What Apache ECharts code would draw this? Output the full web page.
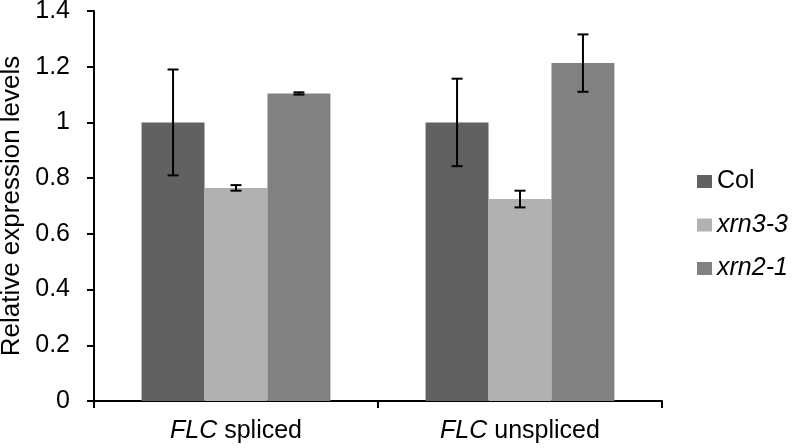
<!DOCTYPE html>
<html><head><meta charset="utf-8">
<script src="https://cdn.jsdelivr.net/npm/echarts@6/dist/echarts.min.js"></script>
<style>html,body{margin:0;padding:0;background:#fff}#c{width:796px;height:448px}</style>
</head><body><div id="c"></div>
<script>
const categories = ['FLC spliced', 'FLC unspliced'];
const seriesNames = ['Col', 'xrn3-3', 'xrn2-1'];
const colValues = [1.0, 1.0];
const colErrors = [0.19, 0.157];
const xrn33Values = [0.765, 0.725];
const xrn33Errors = [0.01, 0.03];
const xrn21Values = [1.104, 1.213];
const xrn21Errors = [0.004, 0.103];
const yTicks = [0, 0.2, 0.4, 0.6, 0.8, 1, 1.2, 1.4];

const colors = ['#616161', '#b1b1b1', '#818181'];
const values = [colValues, xrn33Values, xrn21Values];
const errors = [colErrors, xrn33Errors, xrn21Errors];
const fill = 0.665;
const font = 'Liberation Sans, Arial, Helvetica, sans-serif';
const fs = 25;

const barSeries = seriesNames.map((n, i) => ({
  name: n, type: 'bar', data: values[i],
  itemStyle: {color: colors[i]},
  barGap: '0%', barCategoryGap: ((1 - fill) * 100).toFixed(1) + '%'
}));

const errSeries = seriesNames.map((n, i) => ({
  type: 'custom', name: n + ' err', z: 10, silent: true,
  data: values[i].map((v, k) => [k, v, errors[i][k]]),
  renderItem: function (params, api) {
    const xi = api.value(0), v = api.value(1), e = api.value(2);
    const c = api.coord([xi, v]);
    const catW = api.size([1, 0])[0];
    const bw = catW * fill / 3;
    const cx = c[0] + (i - 1) * bw;
    const yt = api.coord([xi, v + e])[1];
    const yb = api.coord([xi, v - e])[1];
    const cap = 5.5;
    const st = {stroke: '#000', lineWidth: 2};
    return {type: 'group', children: [
      {type: 'line', shape: {x1: cx, y1: yt, x2: cx, y2: yb}, style: st},
      {type: 'line', shape: {x1: cx - cap, y1: yt, x2: cx + cap, y2: yt}, style: st},
      {type: 'line', shape: {x1: cx - cap, y1: yb, x2: cx + cap, y2: yb}, style: st}
    ]};
  }
}));

const chart = echarts.init(document.getElementById('c'), null, {renderer: 'canvas'});
chart.setOption({
  animation: false,
  backgroundColor: '#fff',
  textStyle: {fontFamily: font},
  grid: {left: 94, right: 134, top: 11, bottom: 47, containLabel: false, outerBoundsMode: 'none'},
  legend: {
    data: seriesNames,
    orient: 'vertical', left: 692, top: 164,
    icon: 'rect', itemWidth: 15, itemHeight: 13, itemGap: 18.5,
    textStyle: {
      fontSize: fs, color: '#000', fontFamily: font,
      rich: {i: {fontSize: fs, fontStyle: 'italic', color: '#000', fontFamily: font}}
    },
    formatter: function (n) { return n === 'Col' ? n : '{i|' + n + '}'; }
  },
  xAxis: {
    type: 'category', data: categories,
    axisLine: {lineStyle: {color: '#000', width: 2}},
    axisTick: {show: true, length: 7, lineStyle: {color: '#000', width: 2}},
    axisLabel: {
      margin: 18, fontSize: fs, color: '#000', fontFamily: font,
      rich: {i: {fontSize: fs, fontStyle: 'italic', color: '#000', fontFamily: font}},
      formatter: function (v) { const p = v.split(' '); return '{i|' + p[0] + '} ' + p.slice(1).join(' '); }
    }
  },
  yAxis: {
    type: 'value', min: yTicks[0], max: yTicks[yTicks.length - 1], interval: 0.2,
    name: 'Relative expression levels', nameLocation: 'middle', nameGap: 67, nameRotate: 90,
    nameTextStyle: {fontSize: 26, color: '#000', fontFamily: font},
    axisLine: {show: true, lineStyle: {color: '#000', width: 2}},
    axisTick: {show: true, length: 7, lineStyle: {color: '#000', width: 2}},
    splitLine: {show: false},
    axisLabel: {margin: 24, fontSize: fs, color: '#000', fontFamily: font,
      formatter: function (v) { return String(Math.round(v * 10) / 10); }}
  },
  series: barSeries.concat(errSeries)
});
</script></body></html>
